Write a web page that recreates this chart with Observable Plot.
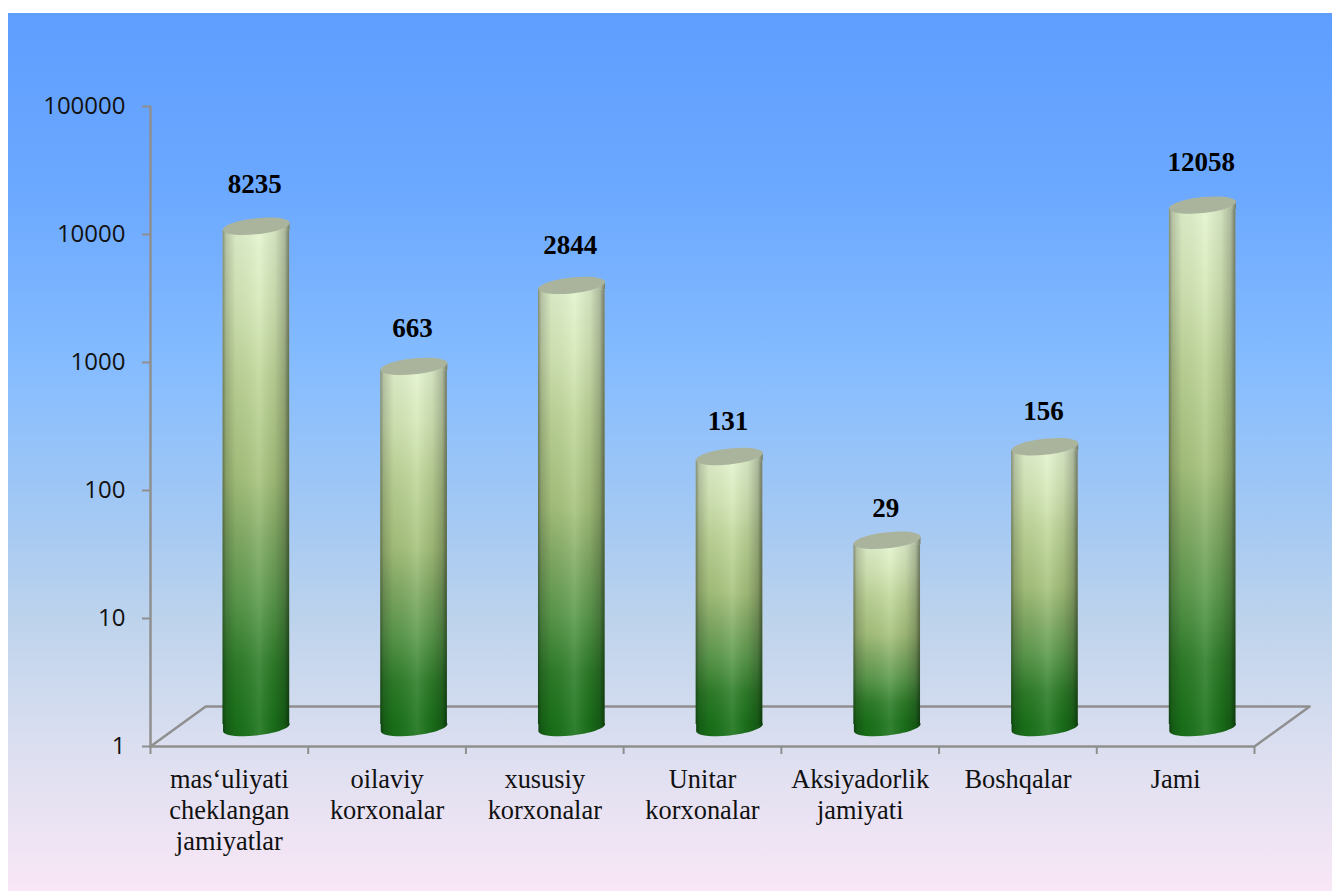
<!DOCTYPE html>
<html>
<head>
<meta charset="utf-8">
<script src="https://cdn.jsdelivr.net/npm/d3@7"></script>
<script src="https://cdn.jsdelivr.net/npm/@observablehq/plot@0.6"></script>
<style>
html,body{margin:0;padding:0;background:#fff;width:1332px;height:891px;overflow:hidden}
#panel{position:absolute;left:8px;top:13px;right:0;bottom:0;
background:linear-gradient(180deg,#5f9eff 0%,#6ba8ff 20%,#85bcff 40%,#a5c9f3 58%,#bfd4ec 70%,#dcdff0 84%,#f9e7f6 100%)}
#chart{position:absolute;left:0;top:0}
</style>
</head>
<body>
<div id="panel"></div>
<div id="chart"></div>
<script>
const categories = ["mas‘uliyati\ncheklangan\njamiyatlar","oilaviy\nkorxonalar","xususiy\nkorxonalar","Unitar\nkorxonalar","Aksiyadorlik\njamiyati","Boshqalar","Jami"];
const values = [8235,663,2844,131,29,156,12058];
const yTicks = [1,10,100,1000,10000,100000];

const rows = categories.map((name,i)=>({name,value:values[i],i}));
const greys = "#8f8f8f";
const depthX = 0.35, depthY = Math.pow(10,0.3125);   // floor depth in scale units
const floor = [[0,1],[depthX,depthY],[7+depthX,depthY],[7,1]];
const axisTickEnd = Math.pow(10,-0.0625);
const labelLift = 1.032;                             // value labels climb slightly faster than the bars

const A=33.3, B=8, K=3.4, C=0.5523;
const P=(x,y)=>[A*x, B*y-K*x];
const curve=(ctx,x1,y1,x2,y2,x,y)=>ctx.bezierCurveTo(...P(x1,y1),...P(x2,y2),...P(x,y));
const capSymbol = {draw(ctx){
  ctx.moveTo(...P(1,0));
  curve(ctx,1,C,C,1,0,1); curve(ctx,-C,1,-1,C,-1,0); curve(ctx,-1,-C,-C,-1,0,-1); curve(ctx,C,-1,1,-C,1,0);
  ctx.closePath();
}};
const wedgeSymbol = {draw(ctx){ctx.moveTo(-A,K);ctx.lineTo(A,-K);ctx.lineTo(A,4);ctx.lineTo(-A,4);ctx.closePath();}};
const footSymbol = {draw(ctx){
  ctx.moveTo(-A,-4);ctx.lineTo(A,-4);ctx.lineTo(...P(1,0));
  curve(ctx,1,C,C,1,0,1); curve(ctx,-C,1,-1,C,-1,0);
  ctx.closePath();
}};

function defs(){
  const d=d3.create("svg:defs");
  const grad=(id,x2,y2,stops)=>{
    const g=d.append("linearGradient").attr("id",id).attr("x1",0).attr("y1",0).attr("x2",x2).attr("y2",y2);
    stops.forEach(([o,c,a])=>g.append("stop").attr("offset",o).attr("stop-color",c).attr("stop-opacity",a==null?1:a));
  };
  grad("body",0,1,[[0,"#e4f4cf"],[0.15,"#d6e9b8"],[0.3,"#c0d79a"],[0.5,"#a8c47e"],[0.62,"#84ad66"],[0.75,"#5c9b4d"],[0.88,"#2f7f2a"],[1,"#1a731a"]]);
  grad("shade",1,0,[[0,"#000",0.42],[0.05,"#000",0.2],[0.2,"#000",0.05],[0.55,"#fff",0.1],[0.78,"#000",0.08],[0.93,"#000",0.24],[1,"#000",0.5]]);
  return d.node();
}

const body = {x1:d=>d.i,x2:d=>d.i+1,y1:1,y2:"value",dx:27,dy:-19,insetLeft:45.55,insetRight:45.55,insetTop:3.4,insetBottom:3};
const atBase = {x:d=>d.i+0.5,y:()=>1,dx:27,dy:-19};
const atTop = {x:d=>d.i+0.5,y:"value",dx:27,dy:-19};

const plot = Plot.plot({
  width:1332,height:891,
  marginLeft:0,marginRight:0,marginTop:0,marginBottom:0,
  style:{background:"transparent"},
  x:{type:"linear",domain:[0,7],range:[150,1254],axis:null},
  y:{type:"log",domain:[1,100000],range:[746,106],axis:null},
  marks:[
    defs,
    // floor
    Plot.line(floor,{x:d=>d[0],y:d=>d[1],stroke:greys,strokeWidth:2.5,curve:"linear"}),
    Plot.ruleY([1],{x1:0,x2:7,stroke:greys,strokeWidth:2.5}),
    Plot.ruleX([0],{y1:1,y2:100000,stroke:greys,strokeWidth:2.5}),
    Plot.ruleX(d3.range(8),{x:d=>d,y1:1,y2:axisTickEnd,stroke:greys,strokeWidth:2}),
    Plot.axisY(yTicks,{anchor:"left",x:0,tickSize:8,tickPadding:17,stroke:greys,strokeWidth:2,fill:"#111",
      fontSize:24,fontFamily:"'Open Sans'",label:null,tickFormat:d=>String(d)}),
    // cylinders
    Plot.dot(rows,{...atBase,symbol:footSymbol,fill:"#1a731a"}),
    Plot.dot(rows,{...atBase,symbol:footSymbol,fill:"url(#shade)"}),
    Plot.rectY(rows,{...body,fill:"url(#body)"}),
    Plot.rectY(rows,{...body,fill:"url(#shade)"}),
    Plot.dot(rows,{...atTop,symbol:wedgeSymbol,fill:"#e4f4cf"}),
    Plot.dot(rows,{...atTop,symbol:wedgeSymbol,fill:"url(#shade)"}),
    Plot.dot(rows,{...atTop,symbol:capSymbol,fill:"#aab49d"}),
    // labels
    Plot.text(rows,{x:d=>d.i+0.5,y:d=>Math.pow(d.value,labelLift),text:d=>String(d.value),dx:25.5,dy:-45,fontSize:27,fontWeight:"bold",
      fontFamily:"'Liberation Serif'",fill:"#000"}),
    Plot.text(rows,{x:d=>d.i+0.5,y:()=>1,text:"name",dy:19.5,lineAnchor:"top",lineHeight:1.18,fontSize:26.4,
      fontFamily:"'Liberation Serif'",fill:"#111"})
  ]
});
document.getElementById("chart").appendChild(plot);
</script>
</body>
</html>
